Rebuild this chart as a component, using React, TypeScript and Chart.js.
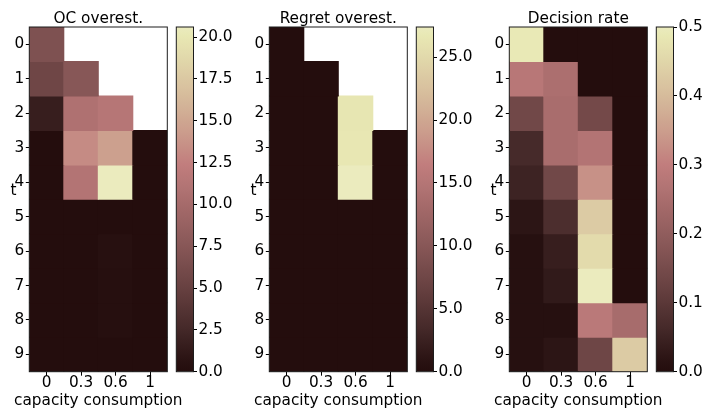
import React, { useEffect, useRef } from 'react';
import { Chart, registerables } from 'chart.js';

Chart.register(...registerables);

// ---------- data ----------
const COLUMNS = ['0', '0.3', '0.6', '1'];
const ROWS = ['0', '1', '2', '3', '4', '5', '6', '7', '8', '9'];

const ocValues: (number | null)[][] = [
  [6.8, null, null, null],
  [5.6, 7.5, null, null],
  [1.6, 10.8, 11.4, null],
  [0, 13.2, 14.6, 0],
  [0, 11.1, 20.6, 0],
  [0, 0, 0, 0],
  [0, 0, 0.4, 0],
  [0, 0, 0.3, 0],
  [0, 0, 0.3, 0],
  [0, 0, 0, 0],
];

const regretValues: (number | null)[][] = [
  [0, null, null, null],
  [0, 0, null, null],
  [0, 0, 26.4, null],
  [0, 0, 26.6, 0],
  [0, 0, 27.4, 0],
  [0, 0, 0, 0],
  [0, 0, 0, 0],
  [0, 0, 0, 0],
  [0, 0, 0, 0],
  [0, 0, 0, 0],
];

const decisionValues: (number | null)[][] = [
  [0.49, 0, 0, 0],
  [0.28, 0.255, 0, 0],
  [0.14, 0.25, 0.145, 0],
  [0.065, 0.25, 0.27, 0],
  [0.05, 0.14, 0.33, 0],
  [0.02, 0.075, 0.43, 0],
  [0.008, 0.04, 0.46, 0],
  [0.008, 0.03, 0.5, 0],
  [0.008, 0.008, 0.285, 0.245],
  [0.008, 0.02, 0.135, 0.43],
];

const ocMax = 20.6;
const regretMax = 27.4;
const decisionMax = 0.5;

const ocTicks = [0, 2.5, 5, 7.5, 10, 12.5, 15, 17.5, 20];
const regretTicks = [0, 5, 10, 15, 20, 25];
const decisionTicks = [0, 0.1, 0.2, 0.3, 0.4, 0.5];

const TITLES = ['OC overest.', 'Regret overest.', 'Decision rate'];
const X_TITLE = 'capacity consumption';
const Y_TITLE = 't';

// ---------- colour map (matplotlib "pink", truncated) ----------
function clamp01(v: number) {
  return Math.max(0, Math.min(1, v));
}
function pinkColor(frac: number): string {
  const f = clamp01(frac);
  const x = 0.004 + 0.771 * Math.pow(f, 1.5);
  const hr = Math.min(1, 0.0416 + (x * (1 - 0.0416)) / 0.365079);
  const hg = clamp01((x - 0.365079) / (0.746032 - 0.365079));
  const hb = clamp01((x - 0.746032) / (1 - 0.746032));
  const r = Math.sqrt((2 * x + hr) / 3);
  const g = Math.sqrt((2 * x + hg) / 3);
  const b = Math.sqrt((2 * x + hb) / 3);
  return `rgb(${Math.round(r * 255)},${Math.round(g * 255)},${Math.round(b * 255)})`;
}

const FONT_SIZE = 15.3;
const FONT = { family: '"DejaVu Sans", sans-serif', size: FONT_SIZE };
const TEXT = '#000';
const FRAME = '#1c1c1c';

const CANVAS_H = 414;
const AREA_TOP = 27;
const AREA_BOTTOM = 371.7;
const HEAT_LEFT = 29.3;
const HEAT_W = 138;
const HEAT_CANVAS_W = 200;
const CB_CANVAS_OFFSET = 170;
const CB_LEFT = 176.3;
const CB_W = 17.2;
const CB_CANVAS_W = 70;

const annotatePlugin = {
  id: 'annotate',
  afterDraw(chart: any, _args: any, opts: any) {
    const { ctx, chartArea: a } = chart;
    ctx.save();
    ctx.strokeStyle = FRAME;
    ctx.lineWidth = 1;
    ctx.strokeRect(a.left, a.top, a.right - a.left, a.bottom - a.top);
    if (opts && opts.title) {
      const cx = (a.left + a.right) / 2;
      ctx.fillStyle = TEXT;
      ctx.font = `${FONT_SIZE}px ${FONT.family}`;
      ctx.textAlign = 'center';
      ctx.textBaseline = 'alphabetic';
      ctx.fillText(opts.title, cx, 23);
      ctx.fillText(X_TITLE, cx, 404.7);
      ctx.fillText(Y_TITLE, a.left - 15.8, 195);
    }
    ctx.restore();
  },
};

function Panel({ index, values, vmax, ticks }: { index: number; values: (number | null)[][]; vmax: number; ticks: number[] }) {
  const heatRef = useRef<HTMLCanvasElement>(null);
  const cbRef = useRef<HTMLCanvasElement>(null);

  useEffect(() => {
    const datasets = ROWS.map((_, r) => ({
      data: COLUMNS.map((_, c) => (values[r][c] === null ? null : [r, r + 1])),
      backgroundColor: COLUMNS.map((_, c) => {
        const v = values[r][c];
        return v === null ? 'rgba(0,0,0,0)' : pinkColor(v / vmax);
      }),
      borderWidth: 0,
      borderSkipped: false,
      inflateAmount: 0.5,
      grouped: false,
      barPercentage: 1,
      categoryPercentage: 1,
    }));

    const heat = new Chart(heatRef.current as HTMLCanvasElement, {
      type: 'bar',
      data: { labels: COLUMNS, datasets: datasets as any },
      options: {
        animation: false,
        responsive: false,
        events: [],
        layout: { padding: { top: AREA_TOP, left: 0, right: HEAT_CANVAS_W - HEAT_LEFT - HEAT_W, bottom: 0 } },
        plugins: {
          legend: { display: false },
          tooltip: { enabled: false },
          annotate: { title: TITLES[index] },
        } as any,
        scales: {
          x: {
            type: 'category',
            offset: true,
            grid: { offset: false, drawOnChartArea: false, tickLength: 4, color: '#000', tickColor: '#000' },
            border: { display: false },
            ticks: { font: FONT, color: TEXT, padding: -2.1, autoSkip: false, maxRotation: 0 },
            title: { display: false },
            afterFit: (s: any) => {
              s.height = CANVAS_H - AREA_BOTTOM;
            },
          },
          y: {
            type: 'linear',
            min: 0,
            max: ROWS.length,
            reverse: true,
            grid: { drawOnChartArea: false, tickLength: 3.5, color: '#000', tickColor: '#000' },
            border: { display: false },
            ticks: {
              font: FONT,
              color: TEXT,
              padding: 1.5,
              autoSkip: false,
              callback: (v: any) => ROWS[Math.floor(Number(v))] ?? '',
            },
            afterBuildTicks: (s: any) => {
              s.ticks = ROWS.map((_, i) => ({ value: i + 0.5 }));
            },
            afterFit: (s: any) => {
              s.width = HEAT_LEFT;
            },
          },
        },
      },
      plugins: [annotatePlugin],
    });

    const cb = new Chart(cbRef.current as HTMLCanvasElement, {
      type: 'bar',
      data: {
        labels: ['cb'],
        datasets: [
          {
            data: [[0, vmax]] as any,
            borderWidth: 0,
            borderSkipped: false,
            barPercentage: 1,
            categoryPercentage: 1,
            backgroundColor: (ctx: any) => {
              const area = ctx.chart.chartArea;
              if (!area) return pinkColor(0.5);
              const g = ctx.chart.ctx.createLinearGradient(0, area.bottom, 0, area.top);
              for (let i = 0; i <= 40; i++) {
                g.addColorStop(i / 40, pinkColor(i / 40));
              }
              return g;
            },
          },
        ],
      },
      options: {
        animation: false,
        responsive: false,
        events: [],
        layout: {
          padding: { top: AREA_TOP, bottom: CANVAS_H - AREA_BOTTOM, left: CB_LEFT - CB_CANVAS_OFFSET, right: 0 },
        },
        plugins: { legend: { display: false }, tooltip: { enabled: false }, annotate: {} } as any,
        scales: {
          x: { type: 'category', display: false, offset: true },
          y: {
            type: 'linear',
            position: 'right',
            min: 0,
            max: vmax,
            grid: { drawOnChartArea: false, tickLength: 3.5, color: '#000', tickColor: '#000' },
            border: { display: false },
            ticks: {
              font: FONT,
              color: TEXT,
              padding: 1.5,
              autoSkip: false,
              callback: (v: any) => Number(v).toFixed(1),
            },
            afterBuildTicks: (s: any) => {
              s.ticks = ticks.map((v) => ({ value: v }));
            },
            afterFit: (s: any) => {
              s.width = CB_CANVAS_W - (CB_LEFT - CB_CANVAS_OFFSET) - CB_W;
            },
          },
        },
      },
      plugins: [annotatePlugin],
    });

    return () => {
      heat.destroy();
      cb.destroy();
    };
  }, []);

  const base = index * 240;
  return (
    <>
      <canvas
        ref={heatRef}
        width={HEAT_CANVAS_W}
        height={CANVAS_H}
        style={{ position: 'absolute', left: base, top: 0, width: HEAT_CANVAS_W, height: CANVAS_H }}
      />
      <canvas
        ref={cbRef}
        width={CB_CANVAS_W}
        height={CANVAS_H}
        style={{ position: 'absolute', left: base + CB_CANVAS_OFFSET, top: 0, width: CB_CANVAS_W, height: CANVAS_H }}
      />
    </>
  );
}

export default function App() {
  useEffect(() => {
    document.body.style.margin = '0';
  }, []);
  return (
    <div style={{ position: 'absolute', left: 0, top: 0, width: 707, height: 414, background: '#fff', overflow: 'hidden' }}>
      <Panel index={0} values={ocValues} vmax={ocMax} ticks={ocTicks} />
      <Panel index={1} values={regretValues} vmax={regretMax} ticks={regretTicks} />
      <Panel index={2} values={decisionValues} vmax={decisionMax} ticks={decisionTicks} />
    </div>
  );
}
